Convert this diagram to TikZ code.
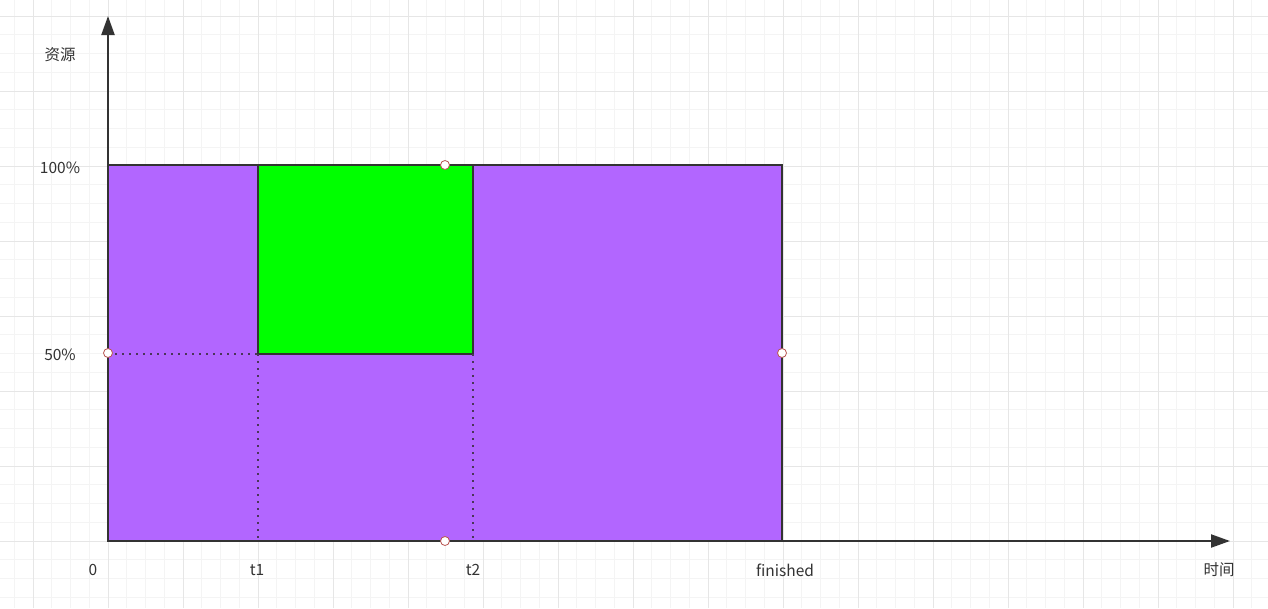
\documentclass[tikz,border=0pt]{standalone}
\usepackage{fontspec}
\setmainfont{Noto Sans CJK SC}
\usetikzlibrary{arrows.meta}
\definecolor{gridminor}{HTML}{F4F4F4}
\definecolor{gridmajor}{HTML}{E6E6E6}
\definecolor{purplefill}{HTML}{B266FF}
\definecolor{greenfill}{HTML}{00FF00}
\definecolor{strokec}{HTML}{333333}
\definecolor{dotc}{HTML}{4A3558}
\definecolor{handle}{HTML}{B85450}
\definecolor{textc}{HTML}{333333}
\tikzset{
  axis/.style={line width=2.2pt, draw=strokec, -{Triangle[length=19pt,width=13pt]}},
  box/.style={line width=2.2pt, draw=strokec},
  dotline/.style={line width=2.4pt, draw=dotc, dash pattern=on 2.4pt off 4.6pt},
  handlept/.style={circle, fill=white, draw=handle, line width=0.8pt, minimum size=9pt, inner sep=0pt},
  lbl/.style={text=textc, font=\fontsize{15.5}{18}\selectfont, inner sep=0pt},
}
\begin{document}
\begin{tikzpicture}[x=1pt,y=-1pt]
\useasboundingbox (0,0) rectangle (1268,608);
\fill[white] (0,0) rectangle (1268,608);
% grid
\foreach \i in {-2,...,68} {
  \draw[gridminor, line width=1pt] ({33+18.75*\i},0) -- ({33+18.75*\i},608);
}
\foreach \j in {-1,...,33} {
  \draw[gridminor, line width=1pt] (0,{16+18.75*\j}) -- (1268,{16+18.75*\j});
}
\foreach \i in {0,...,16} {
  \draw[gridmajor, line width=1pt] ({33+75*\i},0) -- ({33+75*\i},608);
}
\foreach \j in {0,...,8} {
  \draw[gridmajor, line width=1pt] (0,{16+75*\j}) -- (1268,{16+75*\j});
}
% coordinates
\coordinate (O) at (108,541);
\coordinate (ytip) at (108,16);
\coordinate (xtip) at (1230,541);
\coordinate (P1) at (108,165);
\coordinate (P2) at (782,541);
\coordinate (G1) at (258,165);
\coordinate (G2) at (473,354);
\coordinate (mid50) at (108,354);
\coordinate (t1b) at (258,541);
\coordinate (t2b) at (473,541);
\coordinate (t1m) at (258,354);
\coordinate (t2m) at (473,354);
% rectangles
\path[box, fill=purplefill] (P1) rectangle (P2);
\path[box, fill=greenfill] (G1) rectangle (G2);
% dotted lines
\draw[dotline] (mid50) -- (t1m);
\draw[dotline] (t1m) -- (t1b);
\draw[dotline] (t2m) -- (t2b);
% axes
\draw[axis] (O) -- (ytip);
\draw[axis] (O) -- (xtip);
% handles
\node[handlept] (h1) at (445,165) {};
\node[handlept] (h2) at (108,353) {};
\node[handlept] (h3) at (782,353) {};
\node[handlept] (h4) at (445,541) {};
% labels
\node[lbl] (ylabel) at (60,55) {资源};
\node[lbl] (l100) at (60,168) {100\%};
\node[lbl] (l50) at (60,355) {50\%};
\node[lbl] (l0) at (93,570) {0};
\node[lbl] (lt1) at (257,570) {t1};
\node[lbl] (lt2) at (473,570) {t2};
\node[lbl] (lfin) at (785,570) {finished};
\node[lbl] (xlabel) at (1219,570) {时间};
\end{tikzpicture}
\end{document}
